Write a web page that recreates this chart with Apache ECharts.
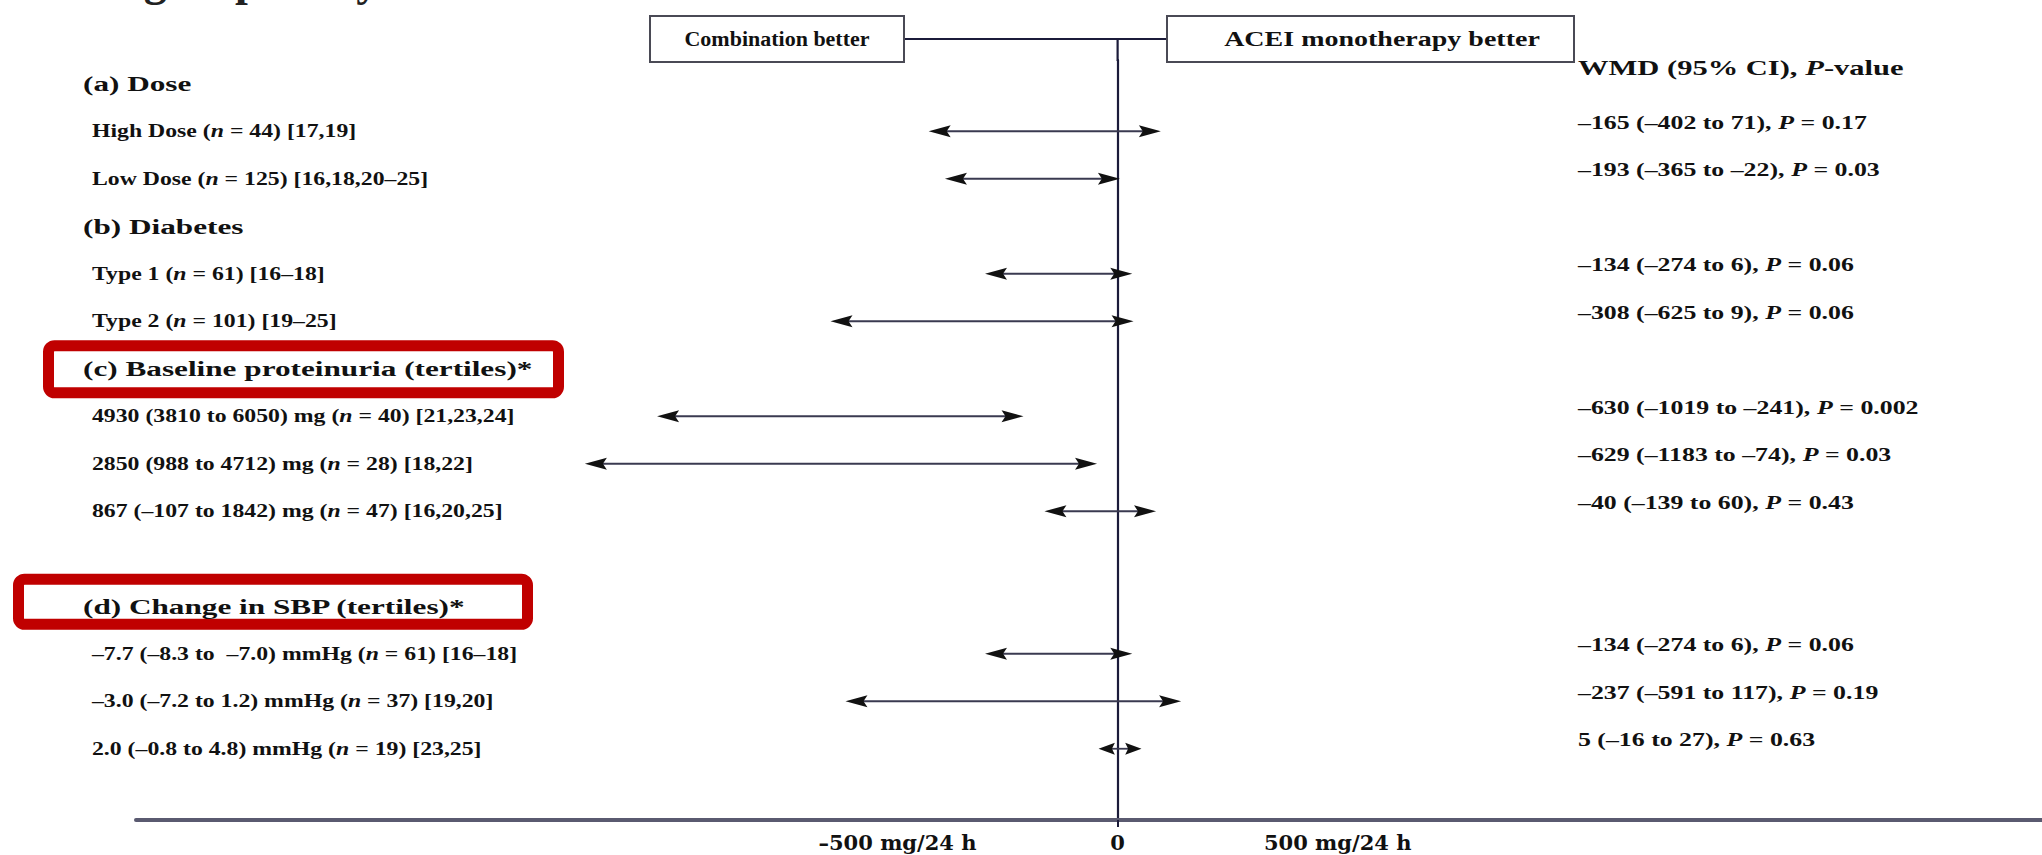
<!DOCTYPE html>
<html>
<head>
<meta charset="utf-8">
<script src="https://cdn.jsdelivr.net/npm/echarts@6/dist/echarts.min.js"></script>
<style>
html,body{margin:0;padding:0;background:#ffffff;}
#chart{width:2042px;height:855px;}
</style>
</head>
<body>
<div id="chart"></div>
<script>
// ---------------- data ----------------
const categories = [
  '(a) Dose',
  'High Dose (n = 44) [17,19]',
  'Low Dose (n = 125) [16,18,20\u201325]',
  '(b) Diabetes',
  'Type 1 (n = 61) [16\u201318]',
  'Type 2 (n = 101) [19\u201325]',
  '(c) Baseline proteinuria (tertiles)*',
  '4930 (3810 to 6050) mg (n = 40) [21,23,24]',
  '2850 (988 to 4712) mg (n = 28) [18,22]',
  '867 (\u2013107 to 1842) mg (n = 47) [16,20,25]',
  '',
  '(d) Change in SBP (tertiles)*',
  '\u20137.7 (\u20138.3 to  \u20137.0) mmHg (n = 61) [16\u201318]',
  '\u20133.0 (\u20137.2 to 1.2) mmHg (n = 37) [19,20]',
  '2.0 (\u20130.8 to 4.8) mmHg (n = 19) [23,25]',
  ''
];
const headerRows = [0, 3, 6, 11];
const ciRows   = [1, 2, 4, 5, 7, 8, 9, 12, 13, 14];
const wmd      = [-165, -193, -134, -308, -630, -629, -40, -134, -237, 5];
const ciLow    = [-402, -365, -274, -625, -1019, -1183, -139, -274, -591, -16];
const ciHigh   = [71, -22, 6, 9, -241, -74, 60, 6, 117, 27];
const pValues  = ['0.17', '0.03', '0.06', '0.06', '0.002', '0.03', '0.43', '0.06', '0.19', '0.63'];
const tickValues = [-500, 0, 500];
const tickLabels = ['\u2013500 mg/24 h', '0', '500 mg/24 h'];
const titleText = 'Subgroup analysis';
const leftBoxText = 'Combination better';
const rightBoxText = 'ACEI monotherapy better';
const columnHeader = 'WMD (95% CI), {i|P}-value';

// ---------------- helpers ----------------
const SERIF = '"Liberation Serif","Times New Roman",serif';
const INK = '#111111';
function num(v) { return v < 0 ? '\u2013' + Math.abs(v) : String(v); }
function italicLetter(s, letter) {
  return s.replace(new RegExp('\\b' + letter + ' ='), '{i|' + letter + '} =');
}
function richItalic(fs) {
  return { i: { fontStyle: 'italic', fontWeight: 'bold', fontSize: fs, fontFamily: SERIF, fill: INK } };
}
const resultText = wmd.map((w, k) =>
  num(w) + ' (' + num(ciLow[k]) + ' to ' + num(ciHigh[k]) + '), {i|P} = ' + pValues[k]);

const chart = echarts.init(document.getElementById('chart'), null, { renderer: 'svg' });

const labelData = categories.map((c, i) => [0, i]).filter(d => categories[d[1]] !== '');
const ciData = ciRows.map((r, k) => [ciLow[k], ciHigh[k], r, k]);

const option = {
  backgroundColor: '#ffffff',
  animation: false,
  grid: { left: 136, right: 0, top: 60, bottom: 35, containLabel: false, outerBoundsMode: 'none' },
  xAxis: {
    type: 'value',
    min: -2230,
    max: 2100,
    splitLine: { show: false },
    axisLine: { show: true, lineStyle: { color: '#5a5a70', width: 4 } },
    axisTick: { show: true, customValues: [0], length: 7, lineStyle: { color: '#1b1b3a', width: 2 } },
    axisLabel: {
      customValues: tickValues,
      formatter: v => tickLabels[tickValues.indexOf(v)],
      fontFamily: '"DejaVu Serif",serif',
      fontWeight: 'bold',
      fontSize: 21,
      color: INK,
      margin: 12
    }
  },
  yAxis: {
    type: 'category',
    inverse: true,
    data: categories.map((c, i) => 'row' + i),
    axisLine: { show: true, onZero: true, lineStyle: { color: '#1b1b3a', width: 2.2 } },
    axisTick: { show: false },
    axisLabel: { show: false },
    splitLine: { show: false }
  },
  series: [
    {
      name: 'labels',
      type: 'custom',
      silent: true,
      clip: false,
      encode: { x: 0, y: 1 },
      data: labelData,
      renderItem: function (params, api) {
        const i = api.value(1);
        const y = api.coord([0, i])[1];
        const header = headerRows.indexOf(i) >= 0;
        const fs = header ? 22 : 19;
        return {
          type: 'text',
          x: header ? 83 : 92,
          y: y,
          scaleX: header ? 1.42 : 1.25,
          style: {
            text: italicLetter(categories[i], 'n'),
            fontSize: fs,
            fontFamily: SERIF,
            fontWeight: 'bold',
            fill: INK,
            align: 'left',
            verticalAlign: 'middle',
            rich: richItalic(fs)
          }
        };
      }
    },
    {
      name: 'WMD 95% CI',
      type: 'custom',
      silent: true,
      clip: false,
      encode: { x: [0, 1], y: 2 },
      data: ciData,
      renderItem: function (params, api) {
        const row = api.value(2);
        const k = api.value(3);
        const EXT = 12;
        const y = api.coord([0, row])[1];
        const xl = api.coord([api.value(0), row])[0] - EXT;
        const xr = api.coord([api.value(1), row])[0] + EXT;
        const span = xr - xl;
        const L = Math.min(22, span * 0.38);
        const H = 6;
        return {
          type: 'group',
          children: [
            { type: 'line', shape: { x1: xl + L * 0.6, y1: y, x2: xr - L * 0.6, y2: y },
              style: { stroke: '#3a3a50', lineWidth: 1.8 } },
            { type: 'polygon', shape: { points: [[xl, y], [xl + L, y - H], [xl + L * 0.82, y], [xl + L, y + H]] },
              style: { fill: INK } },
            { type: 'polygon', shape: { points: [[xr, y], [xr - L, y - H], [xr - L * 0.82, y], [xr - L, y + H]] },
              style: { fill: INK } },
            { type: 'text', x: 1578, y: y - 9, scaleX: 1.36,
              style: { text: resultText[k], fontSize: 19, fontFamily: SERIF, fontWeight: 'bold', fill: INK,
                       align: 'left', verticalAlign: 'middle', rich: richItalic(19) } }
          ]
        };
      }
    }
  ]
};
chart.setOption(option);

// ---------------- annotations positioned from the axes ----------------
const zeroX = chart.convertToPixel({ xAxisIndex: 0 }, 0);
const gridTop = chart.convertToPixel({ yAxisIndex: 0 }, 0) - 47.5 / 2;
const yC = chart.convertToPixel({ yAxisIndex: 0 }, 6);
const yD = chart.convertToPixel({ yAxisIndex: 0 }, 11);
const connY = 39;

chart.setOption({
  graphic: [
    { type: 'text', x: 67, y: -21, silent: true,
      style: { text: titleText, fontSize: 46, fontFamily: SERIF, fontWeight: 'bold', fill: '#222',
               align: 'left', verticalAlign: 'middle' } },
    { type: 'line', silent: true, shape: { x1: 904, y1: connY, x2: 1167, y2: connY },
      style: { stroke: '#1b1b3a', lineWidth: 2 } },
    { type: 'line', silent: true, shape: { x1: zeroX, y1: connY, x2: zeroX, y2: gridTop + 1 },
      style: { stroke: '#1b1b3a', lineWidth: 2.2 } },
    { type: 'rect', silent: true, shape: { x: 650, y: 16, width: 254, height: 46 },
      style: { fill: '#ffffff', stroke: '#4a4a55', lineWidth: 2 } },
    { type: 'rect', silent: true, shape: { x: 1167, y: 16, width: 407, height: 46 },
      style: { fill: '#ffffff', stroke: '#4a4a55', lineWidth: 2 } },
    { type: 'text', x: 777, y: 39, scaleX: 1.1, silent: true,
      style: { text: leftBoxText, fontSize: 20, fontFamily: SERIF, fontWeight: 'bold', fill: INK,
               align: 'center', verticalAlign: 'middle' } },
    { type: 'text', x: 1382, y: 39, scaleX: 1.4, silent: true,
      style: { text: rightBoxText, fontSize: 20, fontFamily: SERIF, fontWeight: 'bold', fill: INK,
               align: 'center', verticalAlign: 'middle' } },
    { type: 'text', x: 1578, y: 68, scaleX: 1.42, silent: true,
      style: { text: columnHeader, fontSize: 21.5, fontFamily: SERIF, fontWeight: 'bold', fill: INK,
               align: 'left', verticalAlign: 'middle', rich: richItalic(21.5) } },
    { type: 'rect', silent: true, shape: { x: 48.5, y: yC - 23, width: 510, height: 47, r: 6 },
      style: { fill: 'none', stroke: '#c00000', lineWidth: 11 } },
    { type: 'rect', silent: true, shape: { x: 18.5, y: yD - 27, width: 509, height: 45, r: 6 },
      style: { fill: 'none', stroke: '#c00000', lineWidth: 11 } }
  ]
});
</script>
</body>
</html>
